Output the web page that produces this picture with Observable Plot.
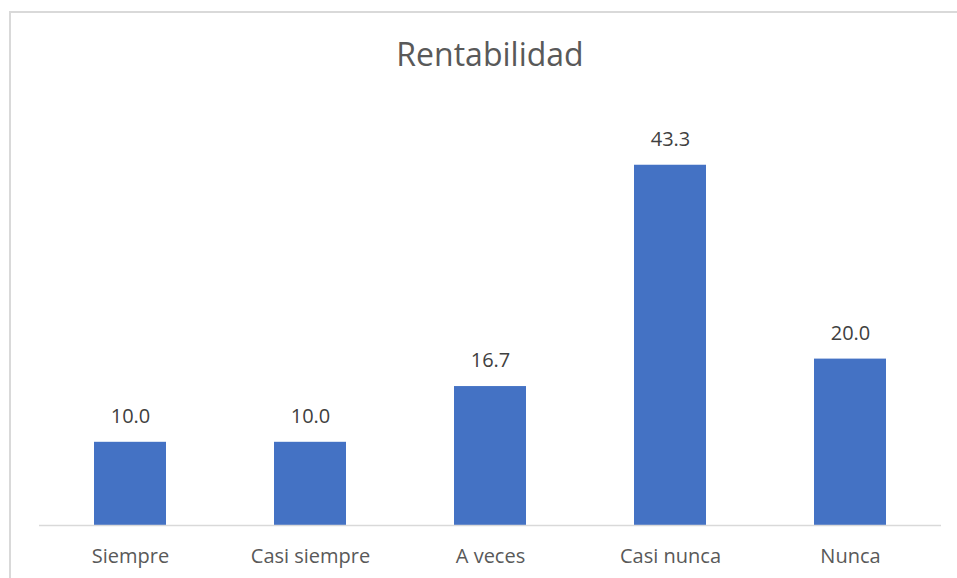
<!DOCTYPE html>
<html>
<head>
<meta charset="utf-8">
<script src="https://cdn.jsdelivr.net/npm/d3@7"></script>
<script src="https://cdn.jsdelivr.net/npm/@observablehq/plot@0.6"></script>
<style>
  html, body { margin: 0; padding: 0; background: #fff; }
  body { width: 957px; height: 578px; position: relative; overflow: hidden; font-family: "Open Sans", sans-serif; }
  #frame { position: absolute; left: 9px; top: 11px; width: 1000px; height: 700px; border-left: 2px solid #D9D9D9; border-top: 2px solid #D9D9D9; box-sizing: border-box; }
  #title { position: absolute; left: 0; width: 980px; top: 30px; text-align: center; font-size: 32px; color: #595959; line-height: 48px; }
  #chart { position: absolute; left: 0; top: 0; }
</style>
</head>
<body>
<div id="frame"></div>
<div id="chart"></div>
<div id="title">Rentabilidad</div>
<script>
const categories = ["Siempre", "Casi siempre", "A veces", "Casi nunca", "Nunca"];
const values = [10.0, 10.0, 16.7, 43.3, 20.0];
const data = categories.map((c, i) => ({category: c, value: values[i]}));

const chart = Plot.plot({
  width: 957,
  height: 578,
  marginLeft: 39,
  marginRight: 16,
  marginTop: 109,
  marginBottom: 53,
  style: {fontFamily: "Open Sans, sans-serif", background: "transparent", color: "#595959"},
  x: {domain: categories, paddingInner: 0.6, paddingOuter: 0.3, label: null},
  y: {domain: [0, 50], axis: null},
  marks: [
    Plot.barY(data, {x: "category", y: "value", fill: "#4472C4"}),
    Plot.ruleY([0], {stroke: "#D9D9D9", strokeWidth: 1.5}),
    Plot.text(data, {x: "category", y: "value", text: d => d.value.toFixed(1), lineAnchor: "middle", dy: -26, fontSize: 20, fill: "#404040"}),
    Plot.axisX({tickSize: 0, tickPadding: 23, fontSize: 20, fill: "#595959", label: null})
  ]
});
document.getElementById("chart").appendChild(chart);
</script>
</body>
</html>
